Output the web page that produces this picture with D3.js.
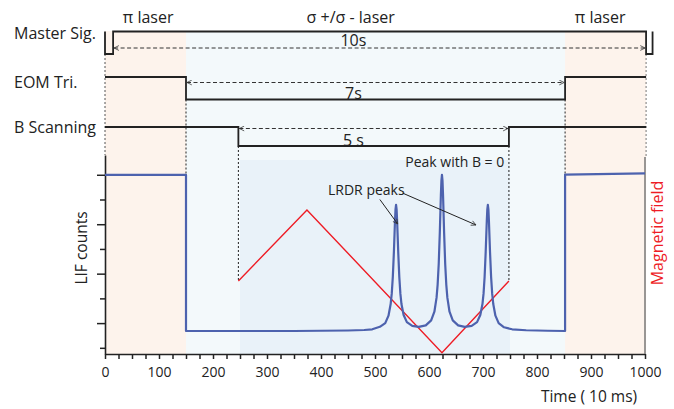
<!DOCTYPE html>
<html>
<head>
<meta charset="utf-8">
<script src="https://cdn.jsdelivr.net/npm/d3@7"></script>
<style>
  body { margin: 0; background: #fff; }
  text { font-family: "Open Sans", "Noto Sans", sans-serif; fill: #222; }
</style>
</head>
<body>
<div id="chart"></div>
<script>
// ---- data ----
var timeTicks = d3.range(0, 1001, 25);          // minor every 25, labelled every 100
var lifTicks = [0, 1, 2, 3, 4, 5, 6, 7];

// LIF counts vs time (10 ms units)
var lifSignal = [
  [0, 7.0], [150, 7.0], [150, 0.68], [350, 0.68], [450, 0.70], [480, 0.72], [495, 0.75],
  [509, 0.85], [519, 1.0], [525, 1.3], [529, 1.77], [531, 2.19], [533, 2.87], [535, 3.88],
  [537, 5.12], [538, 5.6], [539, 5.78], [540, 5.6], [541, 5.12], [543, 3.88], [545, 2.87],
  [547, 2.19], [549, 1.77], [553, 1.33], [559, 1.04], [569, 0.89], [581, 0.85], [594, 0.91],
  [604, 1.11], [610, 1.46], [614, 2.03], [616, 2.56], [618, 3.39], [620, 4.65], [622, 6.18],
  [623, 6.76], [624, 7.0], [625, 6.76], [626, 6.18], [628, 4.65], [630, 3.39], [632, 2.56],
  [634, 2.03], [638, 1.46], [644, 1.11], [654, 0.91], [666, 0.85], [679, 0.89], [689, 1.04],
  [695, 1.33], [699, 1.77], [701, 2.19], [703, 2.87], [705, 3.88], [707, 5.12], [708, 5.6],
  [709, 5.78], [710, 5.6], [711, 5.12], [713, 3.88], [715, 2.87], [717, 2.19], [719, 1.77],
  [723, 1.3], [729, 1.0], [739, 0.83], [754, 0.75], [780, 0.71], [820, 0.69], [852, 0.68],
  [852, 7.01], [1000, 7.06]
];

// magnetic field triangle sweep
var fieldSweep = [[247, 3.67], [374, 7.24], [624, 0.07], [748, 3.67]];

// timing signals: [time, level]
var masterSig = [[0, 1], [0, 0], [15, 0], [15, 1], [1002, 1], [1002, 0], [1014, 0], [1014, 1]];
var eomTri = [[0, 1], [150, 1], [150, 0], [852, 0], [852, 1], [1002, 1]];
var bScan = [[0, 1], [247, 1], [247, 0], [748, 0], [748, 1], [1002, 1]];

var durations = [
  { label: "10s", from: 15, to: 1002 },
  { label: "7s", from: 150, to: 852 },
  { label: "5 s", from: 247, to: 748 }
];

var phases = [
  { label: "π laser", from: 0, to: 150, at: 80 },
  { label: "σ +/σ - laser", from: 150, to: 852, at: 455 },
  { label: "π laser", from: 852, to: 1002, at: 917 }
];
var scanWindow = [250, 750];

// ---- layout ----
var W = 674, H = 409;
var svg = d3.select("#chart").append("svg").attr("width", W).attr("height", H);

var x = d3.scaleLinear().domain([0, 1000]).range([105, 645]);
var yLif = d3.scaleLinear().domain([-0.25, 7.8]).range([354, 155]);
var yB = d3.scaleLinear().domain([0, 10]).range([354, 155]);

var rows = [
  { name: "Master Sig.", data: masterSig, hi: 31.5, lo: 54, labelY: 33, arrowY: 48, textY: 40 },
  { name: "EOM Tri.", data: eomTri, hi: 77, lo: 99.5, labelY: 82, arrowY: 82.5, textY: 93 },
  { name: "B Scanning", data: bScan, hi: 127, lo: 146, labelY: 127, arrowY: 128.5, textY: 140 }
];

var phaseFill = ["#fdf3ec", "#f3f9fb", "#fdf3ec"];

// background shading
svg.selectAll("rect.phase").data(phases).enter().append("rect")
  .attr("class", "phase")
  .attr("x", function(d) { return x(d.from); })
  .attr("width", function(d) { return x(d.to) - x(d.from); })
  .attr("y", 31).attr("height", 354 - 31)
  .attr("fill", function(d, i) { return phaseFill[i]; });

svg.append("rect")
  .attr("x", x(scanWindow[0])).attr("width", x(scanWindow[1]) - x(scanWindow[0]))
  .attr("y", 160).attr("height", 354 - 160)
  .attr("fill", "#e9f2f9");

// phase labels on top
svg.selectAll("text.phase").data(phases).enter().append("text")
  .attr("x", function(d) { return x(d.at); })
  .attr("y", 23)
  .attr("text-anchor", "middle")
  .style("font-size", "16px")
  .text(function(d) { return d.label; });

// arrow heads
var defs = svg.append("defs");
defs.append("marker").attr("id", "open")
  .attr("viewBox", "0 0 10 10").attr("refX", 9).attr("refY", 5)
  .attr("markerWidth", 6).attr("markerHeight", 6).attr("markerUnits", "userSpaceOnUse")
  .attr("orient", "auto-start-reverse")
  .append("path").attr("d", "M1,1 L9,5 L1,9").attr("fill", "none")
  .attr("stroke", "#333").attr("stroke-width", 1.3);

// vertical dashed guides
var guides = [
  { t: 0, y1: rows[0].lo, y2: 155, c: "#555" },
  { t: 150, y1: rows[1].lo, y2: yLif(7.0), c: "#222" },
  { t: 247, y1: rows[2].lo, y2: yB(3.67), c: "#222" },
  { t: 748, y1: rows[2].lo, y2: yB(3.67), c: "#222" },
  { t: 852, y1: rows[1].lo, y2: yLif(7.01), c: "#222" },
  { t: 1002, y1: rows[0].lo, y2: 157, c: "#777" }
];
svg.selectAll("line.guide").data(guides).enter().append("line")
  .attr("x1", function(d) { return x(d.t); }).attr("x2", function(d) { return x(d.t); })
  .attr("y1", function(d) { return d.y1; }).attr("y2", function(d) { return d.y2; })
  .attr("stroke", function(d) { return d.c; })
  .attr("stroke-width", 1).attr("stroke-dasharray", "2,2");

// timing rows
rows.forEach(function(r, i) {
  var ly = d3.scaleLinear().domain([0, 1]).range([r.lo, r.hi]);
  svg.append("path").datum(r.data)
    .attr("d", d3.line().x(function(d) { return x(d[0]); }).y(function(d) { return ly(d[1]); }))
    .attr("fill", "none").attr("stroke", "#222").attr("stroke-width", 1.8);

  svg.append("text").attr("x", 14).attr("y", r.labelY).attr("dy", "0.35em")
    .style("font-size", "16px").text(r.name);

  var dur = durations[i];
  svg.append("line")
    .attr("x1", x(dur.from) + 1).attr("x2", x(dur.to) - 1)
    .attr("y1", r.arrowY).attr("y2", r.arrowY)
    .attr("stroke", "#333").attr("stroke-width", 1).attr("stroke-dasharray", "4,2.5")
    .attr("marker-start", "url(#open)").attr("marker-end", "url(#open)");
  svg.append("text").attr("x", x(460)).attr("y", r.textY).attr("dy", "0.35em")
    .attr("text-anchor", "middle").style("font-size", "16px").text(dur.label);
});

// axes
var xAxis = d3.axisBottom(x).tickValues(timeTicks).tickSize(5).tickSizeOuter(0)
  .tickFormat(function(d) { return d % 100 === 0 ? d : ""; });
var gx = svg.append("g").attr("transform", "translate(0,354)").call(xAxis);
gx.select(".domain").attr("stroke", "#222").attr("stroke-width", 1.6);
gx.selectAll(".tick line").attr("stroke", "#222").attr("stroke-width", 1.5);
gx.selectAll(".tick text").style("font-size", "14px").attr("dy", "1.05em")
  .style("font-family", "'Open Sans', sans-serif").attr("fill", "#222");

var yAxis = d3.axisLeft(yLif).tickValues(lifTicks).tickSizeOuter(0).tickFormat("");
var gy = svg.append("g").attr("transform", "translate(105,0)").call(yAxis);
gy.select(".domain").attr("stroke", "#222").attr("stroke-width", 1.6);
gy.selectAll(".tick line")
  .attr("x2", function(d) { return d % 2 ? -8 : -5; })
  .attr("stroke", "#222").attr("stroke-width", 1.5);

// right axis (magnetic field)
var gr = svg.append("g").attr("transform", "translate(645,0)")
  .call(d3.axisRight(yB).tickValues([]).tickSizeOuter(0));
gr.select(".domain").attr("stroke", "#777").attr("stroke-width", 1.5)
  .attr("d", "M0," + 157 + "V354");

// magnetic field sweep
svg.append("path").datum(fieldSweep)
  .attr("d", d3.line().x(function(d) { return x(d[0]); }).y(function(d) { return yB(d[1]); }))
  .attr("fill", "none").attr("stroke", "#ee1c25").attr("stroke-width", 1.4);

// LIF signal
svg.append("path").datum(lifSignal)
  .attr("d", d3.line().x(function(d) { return x(d[0]); }).y(function(d) { return yLif(d[1]); }))
  .attr("fill", "none").attr("stroke", "#4d62ae").attr("stroke-width", 2.2)
  .attr("stroke-linejoin", "round");

// annotations
svg.append("text").attr("x", x(413)).attr("y", yLif(6.18))
  .style("font-size", "14px").text("LRDR peaks");
svg.append("text").attr("x", x(556)).attr("y", yLif(7.31))
  .style("font-size", "14px").text("Peak with B = 0");

var pointers = [
  { from: [509, 6.0], to: [542, 5.01] },
  { from: [551, 6.26], to: [687, 4.97] }
];
svg.selectAll("line.ptr").data(pointers).enter().append("line")
  .attr("x1", function(d) { return x(d.from[0]); }).attr("y1", function(d) { return yLif(d.from[1]); })
  .attr("x2", function(d) { return x(d.to[0]); }).attr("y2", function(d) { return yLif(d.to[1]); })
  .attr("stroke", "#222").attr("stroke-width", 1)
  .attr("marker-end", "url(#open)");

// axis titles
svg.append("text").attr("transform", "translate(82,248) rotate(-90)")
  .attr("text-anchor", "middle").attr("dy", "0.35em")
  .style("font-size", "15.5px").text("LIF counts");
svg.append("text").attr("transform", "translate(657,233) rotate(-90)")
  .attr("text-anchor", "middle").attr("dy", "0.35em")
  .style("font-size", "16px").style("fill", "#ee1c25").text("Magnetic field");
svg.append("text").attr("x", 589).attr("y", 397).attr("dy", "0.35em")
  .attr("text-anchor", "middle").style("font-size", "15.5px").text("Time ( 10 ms)");
</script>
</body>
</html>
